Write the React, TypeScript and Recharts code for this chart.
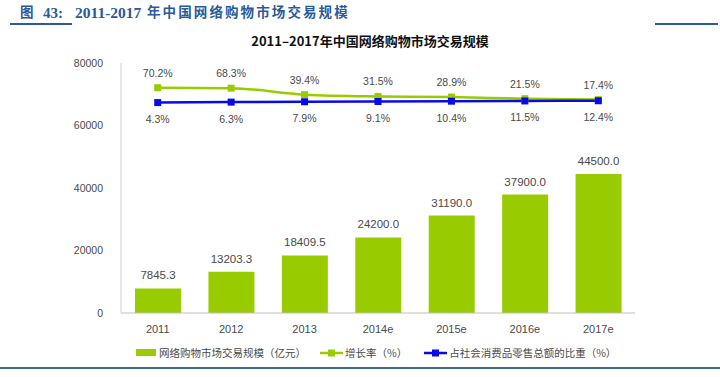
import React from 'react';
import { ComposedChart, Bar, Line, XAxis, YAxis, LabelList } from 'recharts';

// Values
const years = ['2011', '2012', '2013', '2014e', '2015e', '2016e', '2017e'];
const marketSize = [7845.3, 13203.3, 18409.5, 24200.0, 31190.0, 37900.0, 44500.0];
const growthRate = [70.2, 68.3, 39.4, 31.5, 28.9, 21.5, 17.4];
const retailShare = [4.3, 6.3, 7.9, 9.1, 10.4, 11.5, 12.4];
const leftTicks = [0, 20000, 40000, 60000, 80000];

const data = years.map((year, i) => ({
  year,
  size: marketSize[i],
  growth: growthRate[i],
  share: retailShare[i],
}));

const GREEN = '#99CC00';
const BLUE = '#0A0AE8';
const TEXT = '#4A4A4A';
const CAPTION = '#2A5A9A';
const NUM_FONT = "'Liberation Sans', sans-serif";
const CJK_FONT = "'Noto Sans CJK SC', sans-serif";
const SERIF = "'Liberation Serif', 'Noto Sans CJK SC', serif";

// square markers like the Excel original
const squareDot = (color: string) => (props: any) => {
  const { cx, cy, index } = props;
  if (cx == null || cy == null) return <g key={index} />;
  return <rect key={index} x={cx - 3.5} y={cy - 3.5} width={7} height={7} fill={color} />;
};

const LegendLine = ({ color }: { color: string }) => (
  <svg width={23} height={10} style={{ marginRight: 2 }}>
    <line x1={0} y1={5} x2={23} y2={5} stroke={color} strokeWidth={2.5} />
    <rect x={8} y={1.5} width={7} height={7} fill={color} />
  </svg>
);

const captionPart = (left: number, size: number, spacing = 0): React.CSSProperties => ({
  position: 'absolute', left, top: 13, transform: 'translateY(-50%)', fontSize: size,
  letterSpacing: spacing, fontWeight: 'bold', fontFamily: SERIF, color: CAPTION, whiteSpace: 'nowrap', lineHeight: 1,
});

const App: React.FC = () => {
  return (
    <div style={{ position: 'absolute', left: 0, top: 0, width: 720, height: 377, background: '#fff', overflow: 'hidden' }}>
      {/* report figure caption */}
      <span style={captionPart(20, 13.5)}>图</span>
      <span style={captionPart(43, 15)}>43:</span>
      <span style={captionPart(75, 15.5)}>2011-2017</span>
      <span style={captionPart(147, 13.5, 2.1)}>年中国网络购物市场交易规模</span>
      <div style={{ position: 'absolute', left: 10, top: 23, width: 62, height: 2, background: CAPTION }} />
      <div style={{ position: 'absolute', left: 655, top: 23, width: 63, height: 2, background: CAPTION }} />

      {/* chart title */}
      <div
        style={{
          position: 'absolute', left: 0, top: 31, width: 740, textAlign: 'center', fontSize: 13,
          fontWeight: 'bold', fontFamily: CJK_FONT, color: '#111', whiteSpace: 'nowrap',
        }}
      >
        2011–2017年中国网络购物市场交易规模
      </div>

      <div style={{ position: 'absolute', left: 0, top: 0 }}>
        <ComposedChart width={720} height={377} data={data} margin={{ top: 63, right: 85, bottom: 34, left: 61 }}>
          <XAxis
            dataKey="year"
            axisLine={{ stroke: '#BFBFBF' }}
            tickLine={false}
            height={30}
            tickMargin={6}
            tick={{ fontSize: 11, fill: TEXT, fontFamily: NUM_FONT }}
          />
          <YAxis
            yAxisId="size"
            width={60}
            domain={[0, 80000]}
            ticks={leftTicks}
            axisLine={{ stroke: '#D0D0D0' }}
            tickLine={false}
            tickMargin={12}
            tick={{ fontSize: 10.5, fill: TEXT, fontFamily: NUM_FONT }}
          />
          <YAxis yAxisId="pct" orientation="right" hide domain={[-930, 180]} />
          <Bar yAxisId="size" dataKey="size" fill={GREEN} barSize={46} isAnimationActive={false}>
            <LabelList
              dataKey="size"
              position="top"
              offset={9}
              formatter={(v: any) => Number(v).toFixed(1)}
              style={{ fontSize: 11.5, fill: TEXT, fontFamily: NUM_FONT }}
            />
          </Bar>
          <Line
            yAxisId="pct"
            dataKey="growth"
            type="monotone"
            stroke={GREEN}
            strokeWidth={2.5}
            dot={squareDot(GREEN)}
            activeDot={false}
            isAnimationActive={false}
          >
            <LabelList
              dataKey="growth"
              position="top"
              offset={11}
              formatter={(v: any) => `${Number(v).toFixed(1)}%`}
              style={{ fontSize: 10.5, fill: TEXT, fontFamily: NUM_FONT }}
            />
          </Line>
          <Line
            yAxisId="pct"
            dataKey="share"
            type="monotone"
            stroke={BLUE}
            strokeWidth={2.5}
            dot={squareDot(BLUE)}
            activeDot={false}
            isAnimationActive={false}
          >
            <LabelList
              dataKey="share"
              position="bottom"
              offset={13}
              formatter={(v: any) => `${Number(v).toFixed(1)}%`}
              style={{ fontSize: 10.5, fill: TEXT, fontFamily: NUM_FONT }}
            />
          </Line>
        </ComposedChart>
      </div>

      {/* legend */}
      <div
        style={{
          position: 'absolute', left: 136, top: 345, display: 'flex', alignItems: 'center',
          fontSize: 10.5, fontFamily: CJK_FONT, color: TEXT, whiteSpace: 'nowrap',
        }}
      >
        <div style={{ width: 20, height: 7, background: GREEN, marginRight: 3 }} />
        <span style={{ marginRight: 14 }}>网络购物市场交易规模（亿元）</span>
        <LegendLine color={GREEN} />
        <span style={{ marginRight: 17 }}>增长率（%）</span>
        <LegendLine color={BLUE} />
        <span>占社会消费品零售总额的比重（%）</span>
      </div>

      <div style={{ position: 'absolute', left: 0, top: 367, width: 720, height: 2, background: '#3D6A8E' }} />
    </div>
  );
};

export default App;
